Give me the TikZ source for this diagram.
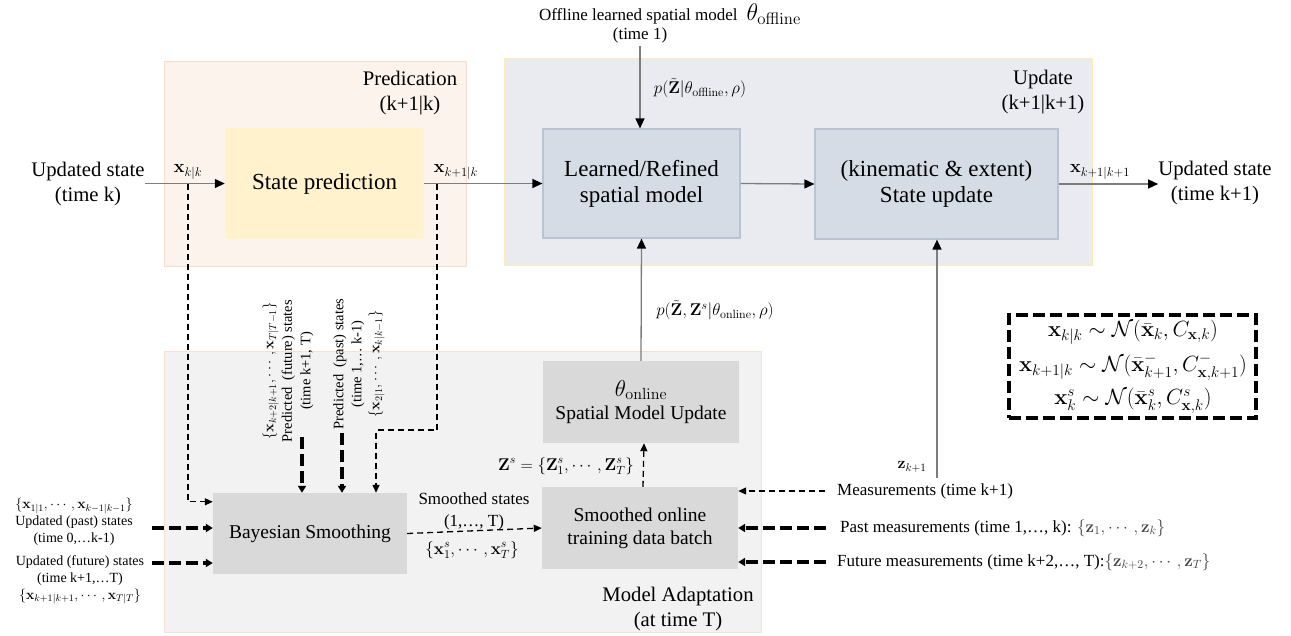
\RequirePackage{fix-cm}
\documentclass[tikz,border=0pt]{standalone}
\usepackage{amsmath}
\usepackage[no-math]{fontspec}
\setmainfont{Liberation Serif}
\usetikzlibrary{arrows.meta,calc}
\definecolor{predbg}{RGB}{252,243,237}
\definecolor{predbd}{RGB}{247,221,205}
\definecolor{spfill}{RGB}{255,242,204}
\definecolor{updbg}{RGB}{233,235,241}
\definecolor{updbd}{RGB}{253,234,180}
\definecolor{bluefill}{RGB}{214,220,229}
\definecolor{bluebd}{RGB}{184,195,211}
\definecolor{adbg}{RGB}{242,242,242}
\definecolor{adbd}{RGB}{248,224,212}
\definecolor{greyfill}{RGB}{217,217,217}
\definecolor{lineg}{RGB}{125,125,125}
\definecolor{mathg}{RGB}{70,70,70}
\tikzset{
  region/.style={inner sep=0pt, line width=1pt},
  blk/.style={inner sep=0pt, align=center, font=\fontsize{23}{26}\selectfont},
  blks/.style={inner sep=0pt, align=center, font=\fontsize{19.5}{23}\selectfont, fill=greyfill},
  lbl/.style={inner sep=0pt, align=center, font=\fontsize{20.7}{25}\selectfont},
  mtxt/.style={inner sep=0pt, font=\fontsize{17}{20}\selectfont},
  mlbl/.style={inner sep=0pt, font=\fontsize{18}{20}\selectfont},
  small/.style={inner sep=0pt, align=center, font=\fontsize{14}{17}\selectfont},
  legf/.style={inner sep=0pt, font=\fontsize{22}{24}\selectfont},
  solidarr/.style={draw=lineg, line width=1.3pt, -{Triangle[length=10pt,width=9pt,color=black]}},
  thindash/.style={draw=black, line width=1.3pt, dash pattern=on 6pt off 4pt, -{Triangle[length=8pt,width=7pt]}},
  thickdash/.style={draw=black, line width=3.5pt, dash pattern=on 12pt off 5pt, -{Triangle[length=7pt,width=8pt]}},
  legbox/.style={draw=black, line width=3.5pt, dash pattern=on 12pt off 5pt, inner sep=0pt}
}
\begin{document}
\begin{tikzpicture}[x=1pt,y=-1pt]
\useasboundingbox (0,0) rectangle (1291,635);
% regions
\node[region, fill=predbg, draw=predbd, minimum width=302pt, minimum height=205pt] (predreg) at (315,163.5) {};
\node[region, fill=updbg, draw=updbd, minimum width=588pt, minimum height=207pt] (updreg) at (798,161.5) {};
\node[region, fill=adbg, draw=adbd, minimum width=597pt, minimum height=281pt] (adreg) at (462.5,491.5) {};
\node[lbl] (predlbl) at (410,93) {Predication\\(k+1|k)};
\node[lbl] (updlbl) at (1043,92) {Update\\(k+1|k+1)};
\node[lbl] (adlbl) at (678,609) {Model Adaptation\\(at time T)};
% blocks
\node[blk, fill=spfill, minimum width=199pt, minimum height=111pt] (sp) at (324.5,183.5) {State prediction};
\node[blk, fill=bluefill, draw=bluebd, line width=1.2pt, minimum width=197pt, minimum height=109pt] (learn) at (641.5,183.5) {Learned/Refined\\spatial model};
\node[blk, fill=bluefill, draw=bluebd, line width=1.2pt, minimum width=243pt, minimum height=110pt] (supd) at (936.5,184) {(kinematic \& extent)\\State update};
\node[blks, minimum width=194pt, minimum height=81pt] (bayes) at (310,533.5) {Bayesian Smoothing};
\node[blks, minimum width=196pt, minimum height=82pt] (spat) at (641,402) {{\fontsize{23}{23}\selectfont$\theta_{\mathrm{online}}$}\\Spatial Model Update};
\node[blks, minimum width=196pt, minimum height=82pt] (smooth) at (640,528) {Smoothed online\\training data batch};
% outer texts
\node[lbl] (inL) at (88,184) {Updated state\\(time k)};
\node[lbl] (outR) at (1215,183) {Updated state\\(time k+1)};
\node[mtxt] (off1) at (670,14) {Offline learned spatial model\; {\fontsize{24}{24}\selectfont$\theta_{\mathrm{offline}}$}};
\node[mtxt] (off2) at (640,35) {(time 1)};
% main arrows
\draw[solidarr] (sp.west -| inL.east) -- (sp.west);
\draw[solidarr] (sp.east) -- (learn.west);
\draw[solidarr] (learn.east) -- (supd.west);
\draw[solidarr] (supd.east) -- (supd.east -| outR.west);
\draw[solidarr] ([yshift=-3pt]off2.south) -- (off2.south |- learn.north);
\draw[solidarr] (spat.north) -- (learn.south);
\coordinate (zc) at (937,478);
\draw[solidarr] (zc) -- (zc |- supd.south);
% arrow labels
\node[mlbl] (lxkk) at (188,172) {$\mathbf{x}_{k|k}$};
\node[mlbl] (lxk1k) at (456,172) {$\mathbf{x}_{k+1|k}$};
\node[mlbl] (lxk1k1) at (1100,172) {$\mathbf{x}_{k+1|k+1}$};
\node[mtxt] (poff) at (700,88) {$p(\tilde{\mathbf{Z}}|\theta_{\mathrm{offline}},\rho)$};
\node[mtxt] (pon) at (715,310) {$p(\tilde{\mathbf{Z}},\mathbf{Z}^s|\theta_{\mathrm{online}},\rho)$};
\node[mlbl, font=\fontsize{16}{18}\selectfont] (lz) at (912,467) {$\mathbf{z}_{k+1}$};
% dashed paths from prediction stage
\coordinate (bk) at (188,183.5);
\coordinate (bk1) at (437,183.5);
\coordinate (kink) at (437,430);
\draw[thindash] (bk) |- ($(bayes.north west)+(0,9)$);
\draw[thindash] (bk1) -- (kink) -| ($(bayes.north)+(66,0)$);
% rotated labels
\node[small, rotate=90, font=\fontsize{14.5}{18.5}\selectfont] (futp) at (288,371) {$\{\mathbf{x}_{k+2|k+1},\cdots,\mathbf{x}_{T|T-1}\}$\\Predicted~~(future) states\\(time k+1, T)};
\node[small, rotate=90, font=\fontsize{14.5}{18}\selectfont] (pastp) at (359,364) {Predicted~~(past) states\\(time 1,…\ k-1)\\$\{\mathbf{x}_{2|1},\cdots,\mathbf{x}_{k|k-1}\}$};
\coordinate (fa) at (302,437);
\coordinate (pa) at (342,433);
\draw[thickdash] (fa) -- (fa |- bayes.north);
\draw[thickdash] (pa) -- (pa |- bayes.north);
% left inputs
\node[small] (lpast) at (74,522) {$\{\mathbf{x}_{1|1},\cdots,\mathbf{x}_{k-1|k-1}\}$\\Updated (past) states\\(time 0,…k-1)};
\node[small] (lfut) at (80,580) {Updated (future) states\\(time k+1,…T)\\$\{\mathbf{x}_{k+1|k+1},\cdots,\mathbf{x}_{T|T}\}$};
\coordinate (lpa) at (152,528);
\coordinate (lfa) at (152,563);
\draw[thickdash] (lpa) -- (lpa -| bayes.west);
\draw[thickdash] (lfa) -- (lfa -| bayes.west);
% smoothing to batch
\draw[thindash] (bayes.east) -- (smooth.west);
\node[mtxt, align=center, font=\fontsize{17}{22}\selectfont] (sst) at (474,511) {Smoothed states\\(1,…, T)};
\node[mtxt] (sxs) at (472,550) {$\{\mathbf{x}^s_1,\cdots,\mathbf{x}^s_T\}$};
\draw[thindash] ([xshift=3pt]smooth.north) -- ([xshift=3pt]spat.south);
\node[mtxt] (zs) at (566,466) {$\mathbf{Z}^s=\{\mathbf{Z}^s_1,\cdots,\mathbf{Z}^s_T\}$};
% measurements
\node[mtxt, anchor=west] (m1) at (837,491) {Measurements (time k+1)};
\node[mtxt, anchor=west] (m2) at (840,528) {Past measurements (time 1,…, k): {\color{mathg}$\{\mathbf{z}_1,\cdots,\mathbf{z}_k\}$}};
\node[mtxt, anchor=west] (m3) at (837,562) {Future measurements (time k+2,…, T):{\color{mathg}$\{\mathbf{z}_{k+2},\cdots,\mathbf{z}_T\}$}};
\draw[thindash] ([xshift=-12pt]m1.west) -- (m1.west -| smooth.east);
\draw[thickdash] ([xshift=-14pt]m2.west) -- (m2.west -| smooth.east);
\draw[thickdash] ([xshift=-11pt]m3.west) -- (m3.west -| smooth.east);
% legend
\node[legbox, minimum width=247pt, minimum height=103pt] (legend) at (1132.5,366.5) {};
\node[legf] (leg1) at (1133,332) {$\mathbf{x}_{k|k}\sim\mathcal{N}(\bar{\mathbf{x}}_k,C_{\mathbf{x},k})$};
\node[legf] (leg2) at (1133,367) {$\mathbf{x}_{k+1|k}\sim\mathcal{N}(\bar{\mathbf{x}}^-_{k+1},C^-_{\mathbf{x},k+1})$};
\node[legf] (leg3) at (1133,401) {$\mathbf{x}^s_k\sim\mathcal{N}(\bar{\mathbf{x}}^s_k,C^s_{\mathbf{x},k})$};
\end{tikzpicture}
\end{document}
